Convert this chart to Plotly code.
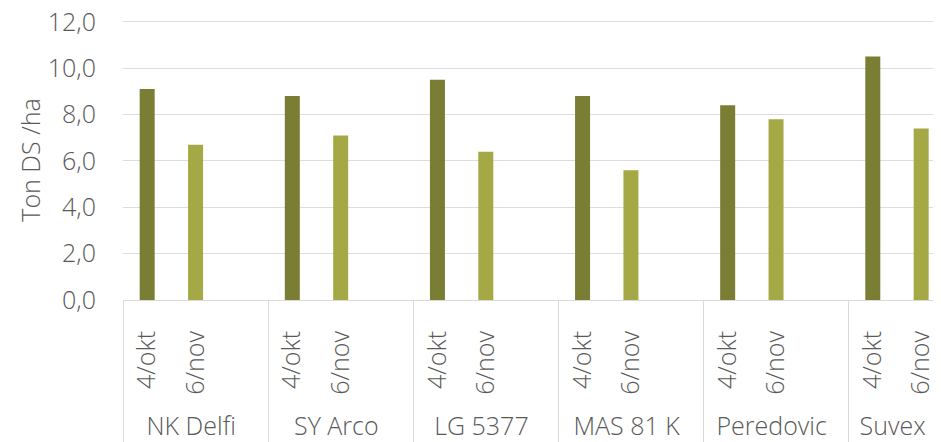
import plotly.graph_objects as go

varieties = ["NK Delfi", "SY Arco", "LG 5377", "MAS 81 K", "Peredovic", "Suvex"]
dates = ["4/okt", "6/nov"]
okt_values = [9.1, 8.8, 9.5, 8.8, 8.4, 10.5]
nov_values = [6.7, 7.1, 6.4, 5.6, 7.8, 7.4]
y_ticks = [0, 2, 4, 6, 8, 10, 12]
y_tick_labels = ["0,0", "2,0", "4,0", "6,0", "8,0", "10,0", "12,0"]

dark = "#7A7E35"
light = "#A4A946"
blank = " "
pad = "\u00a0\u00a0"

outer, inner, vals, cols = [], [], [], []
for v, a, b in zip(varieties, okt_values, nov_values):
    outer += [v, v, v]
    inner += [pad + dates[0], pad + dates[1], blank]
    vals += [a, b, None]
    cols += [dark, light, light]

fig = go.Figure(go.Bar(
    x=[outer, inner], y=vals,
    marker=dict(color=cols, line=dict(width=0)),
    width=0.31, showlegend=False,
))

font_family = "Open Sans"
grey = "#595959"
fs = 25
fig.update_layout(
    width=933, height=434,
    margin=dict(l=115, r=0, t=12, b=142),
    paper_bgcolor="white", plot_bgcolor="white",
    font=dict(family=font_family, size=fs, color=grey, weight=300),
)
fig.update_xaxes(
    type="multicategory", range=[-0.5, 16.41], automargin=False,
    tickangle=-90, showgrid=False,
    showdividers=True, dividercolor="#D9D9D9", dividerwidth=1,
    showline=True, linecolor="#D9D9D9", linewidth=1,
    tickfont=dict(size=fs, color=grey, weight=300),
    ticklabelstandoff=20, ticklabeloverflow="allow",
)
fig.update_yaxes(
    range=[0, 12.08], tickvals=y_ticks, ticktext=y_tick_labels, automargin=False,
    showgrid=True, gridcolor="#DDDDDD", gridwidth=1,
    zeroline=False, showline=False,
    tickfont=dict(size=fs, color=grey, weight=300),
    ticklabelstandoff=26, ticklabeloverflow="allow",
    title=dict(text="Ton DS /ha", font=dict(size=fs, color=grey, weight=300), standoff=0),
)
fig.write_html("out.html")
